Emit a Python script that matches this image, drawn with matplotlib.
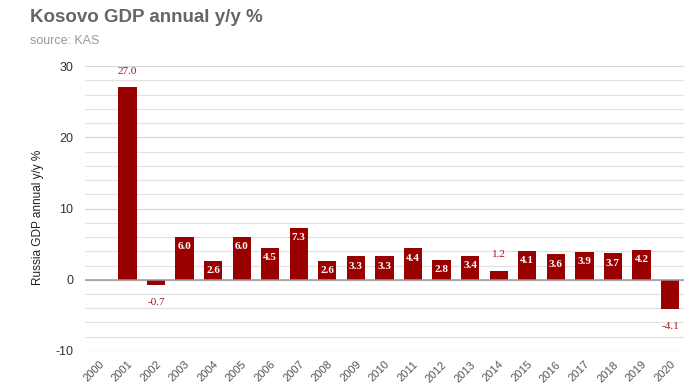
import numpy as np
import matplotlib.pyplot as plt

years = [str(y) for y in range(2000, 2021)]
growth = [np.nan, 27.0, -0.7, 6.0, 2.6, 6.0, 4.5, 7.3, 2.6, 3.3, 3.3,
          4.4, 2.8, 3.4, 1.2, 4.1, 3.6, 3.9, 3.7, 4.2, -4.1]
# bars whose label sits outside the bar
outside = ['2001', '2002', '2014', '2020']

bar_color = '#990000'
plt.rcParams['font.family'] = ['Liberation Sans', 'DejaVu Sans']
plt.rcParams['axes.unicode_minus'] = False

fig = plt.figure(figsize=(6.99, 3.92), dpi=100)
ax = fig.add_axes([0.121, 0.1046, 0.858, 0.727])

x = np.arange(len(years))
ax.bar(x, growth, width=0.64, color=bar_color, zorder=3)

# gridlines every 2 units
for g in range(-10, 31, 2):
    c = '#e2e2e2' if g % 10 else '#d8d8d8'
    if g == -10:
        c = '#c8c8c8'
    ax.axhline(g, color=c, lw=0.9, zorder=1)
ax.axhline(0, color='#999999', lw=1.1, zorder=4)

for xi, yr, v in zip(x, years, growth):
    if np.isnan(v):
        continue
    if yr in outside:
        off = 2.3 if v > 0 else -2.5
        ax.text(xi, v + off, f'{v:.1f}', ha='center', va='center',
                color='#a01818', fontsize=8, family='Liberation Serif', zorder=5)
    else:
        cy = max(v - 1.4, v / 2)
        ax.text(xi, cy, f'{v:.1f}', ha='center', va='center', color='white',
                fontsize=8, fontweight='bold', family='Liberation Serif', zorder=5)

ax.set_xlim(-0.5, len(years) - 0.5)
ax.set_ylim(-10, 30)
ax.set_yticks([-10, 0, 10, 20, 30])
ax.set_xticks(x)
ax.set_xticklabels(years, rotation=45, ha='right', rotation_mode='anchor',
                   fontsize=8, color='#555555')
ax.tick_params(axis='x', length=0, pad=6)
ax.tick_params(axis='y', length=0, pad=8, labelsize=9, labelcolor='#333333')
for s in ax.spines.values():
    s.set_visible(False)

ax.set_ylabel('Russia GDP annual y/y %', fontsize=8.5, color='#222222')
ax.yaxis.set_label_coords(-0.068, 0.47)

fig.text(0.043, 0.955, 'Kosovo GDP annual y/y %', fontsize=13.5, fontweight='bold',
         color='#666666', va='center')
fig.text(0.043, 0.895, 'source: KAS', fontsize=9, color='#999999', va='center')

fig.savefig('out.png', dpi=100)
